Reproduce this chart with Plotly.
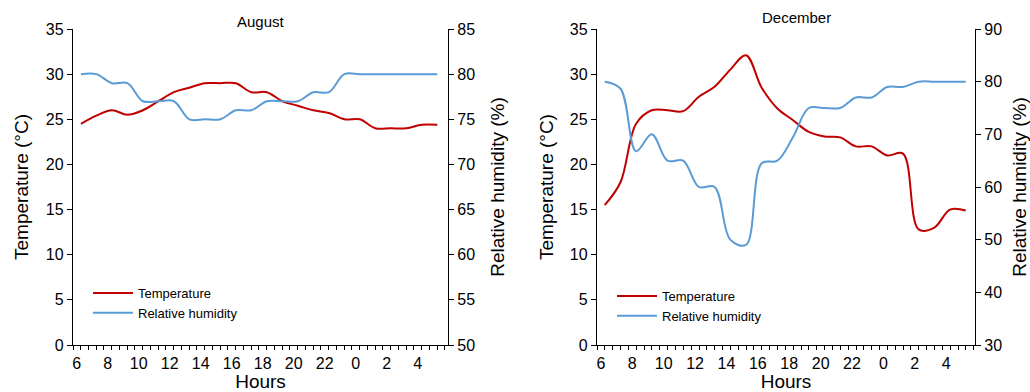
import plotly.graph_objects as go

# ---- data (hours elapsed since 06:00) ----
hour_offset = [0.25, 1.25, 2.25, 3.25, 4.25, 5.25, 6.25, 7.25, 8.25, 9.25, 10.25, 11.25,
               12.25, 13.25, 14.25, 15.25, 16.25, 17.25, 18.25, 19.25, 20.25, 21.25, 22.25, 23.25]

tick_labels = ["6", "8", "10", "12", "14", "16", "18", "20", "22", "0", "2", "4"]

temp_aug = [24.5, 25.4, 26.0, 25.5, 26.0, 27.0, 28.0, 28.5, 29.0, 29.0, 29.0, 28.0,
            28.0, 27.0, 26.5, 26.0, 25.7, 25.0, 25.0, 24.0, 24.0, 24.0, 24.4, 24.4]
rh_aug = [80, 80, 79, 79, 77, 77, 77, 75, 75, 75, 76, 76,
          77, 77, 77, 78, 78, 80, 80, 80, 80, 80, 80, 80]

temp_dec = [15.5, 18.0, 24.5, 26.0, 26.0, 25.9, 27.5, 28.6, 30.5, 32.1, 28.5, 26.2,
            24.9, 23.6, 23.1, 23.0, 22.0, 22.0, 21.0, 21.2, 12.8, 13.0, 15.0, 14.9]
rh_dec = [80, 78.7, 66.8, 70, 65, 65, 60, 60, 50, 49, 64.5, 65,
          69.5, 75, 75, 75, 77, 77, 79, 79, 80, 80, 80, 80]

RED = "#C00000"
BLUE = "#5B9BD5"
FONT = "Liberation Sans, Arial, sans-serif"

fig = go.Figure()
fig.add_trace(go.Scatter(x=hour_offset, y=temp_aug, name="Temperature", mode="lines",
                         line=dict(color=RED, width=2, shape="spline", smoothing=1.0),
                         xaxis="x", yaxis="y", legend="legend"))
fig.add_trace(go.Scatter(x=hour_offset, y=rh_aug, name="Relative humidity", mode="lines",
                         line=dict(color=BLUE, width=2, shape="spline", smoothing=1.0),
                         xaxis="x", yaxis="y2", legend="legend"))
fig.add_trace(go.Scatter(x=hour_offset, y=temp_dec, name="Temperature", mode="lines",
                         line=dict(color=RED, width=2, shape="spline", smoothing=1.0),
                         xaxis="x2", yaxis="y3", legend="legend2"))
fig.add_trace(go.Scatter(x=hour_offset, y=rh_dec, name="Relative humidity", mode="lines",
                         line=dict(color=BLUE, width=2, shape="spline", smoothing=1.0),
                         xaxis="x2", yaxis="y4", legend="legend2"))

W, H = 1030, 392
L, R, T, B = 73, 55, 29, 47
PW = W - L - R
PH = H - T - B


def dom(a, b):
    return [(a - L) / PW, (b - L) / PW]


def py(px_from_top):
    return (H - B - px_from_top) / PH


TICKFONT = dict(size=16, color="black", family=FONT)
TITLEFONT = dict(size=19, color="black", family=FONT)

ycommon = dict(showline=True, linecolor="black", linewidth=1.3, showgrid=False,
               zeroline=False, tickfont=TICKFONT, automargin=False,
               ticks="outside", ticklen=5, tickcolor="black", tickwidth=1.3)


def x_axis(rng):
    # half-hour tick marks (category boundaries); hour labels sit between two marks
    marks = [rng[0] + 0.5 * i for i in range(49)]
    texts = [""] * len(marks)
    for j, lab in enumerate(tick_labels):
        texts[1 + 4 * j] = lab
    return dict(range=rng, showline=True, linecolor="black", linewidth=1.3, showgrid=False,
                zeroline=False, automargin=False, tickmode="array", tickvals=marks, ticktext=texts,
                ticks="outside", ticklen=4, tickcolor="black", tickwidth=1.2,
                tickfont=TICKFONT, ticklabelshift=-4, ticklabelstandoff=0,
                title=dict(text="Hours", font=TITLEFONT, standoff=5))


AUG_RANGE = [-0.26, 23.94]
DEC_RANGE = [-0.24, 23.84]

fig.update_layout(
    width=W, height=H,
    margin=dict(l=L, r=R, t=T, b=B),
    paper_bgcolor="white", plot_bgcolor="white",
    font=dict(family=FONT, color="black"),
    xaxis=dict(domain=dom(73, 448), anchor="y", **x_axis(AUG_RANGE)),
    yaxis=dict(domain=[0, 1], range=[0, 35], dtick=5, anchor="x",
               title=dict(text="Temperature (°C)", font=TITLEFONT, standoff=12), **ycommon),
    yaxis2=dict(range=[50, 85], dtick=5, anchor="x", overlaying="y", side="right",
                title=dict(text="Relative humidity (%)", font=TITLEFONT, standoff=16), **ycommon),
    xaxis2=dict(domain=dom(597, 975), anchor="y3", **x_axis(DEC_RANGE)),
    yaxis3=dict(domain=[0, 1], range=[0, 35], dtick=5, anchor="x2",
                title=dict(text="Temperature (°C)", font=TITLEFONT, standoff=11), **ycommon),
    yaxis4=dict(range=[30, 90], dtick=10, anchor="x2", overlaying="y3", side="right",
                title=dict(text="Relative humidity (%)", font=TITLEFONT, standoff=14), **ycommon),
    legend=dict(x=(88 - L) / PW, y=py(278), xanchor="left", yanchor="top",
                bgcolor="rgba(0,0,0,0)", font=dict(size=13, color="black"), itemwidth=40,
                tracegroupgap=0),
    legend2=dict(x=(612 - L) / PW, y=py(281), xanchor="left", yanchor="top",
                 bgcolor="rgba(0,0,0,0)", font=dict(size=13, color="black"), itemwidth=40,
                 tracegroupgap=0),
    annotations=[
        dict(text="August", x=(261 - L) / PW, y=py(21), xref="paper", yref="paper",
             showarrow=False, font=dict(size=15, color="black"), xanchor="center", yanchor="middle"),
        dict(text="December", x=(796 - L) / PW, y=py(17), xref="paper", yref="paper",
             showarrow=False, font=dict(size=15, color="black"), xanchor="center", yanchor="middle"),
    ],
    showlegend=True,
)

fig.write_html("out.html", config={"displayModeBar": False},
               post_script="document.body.style.margin='0px';")
